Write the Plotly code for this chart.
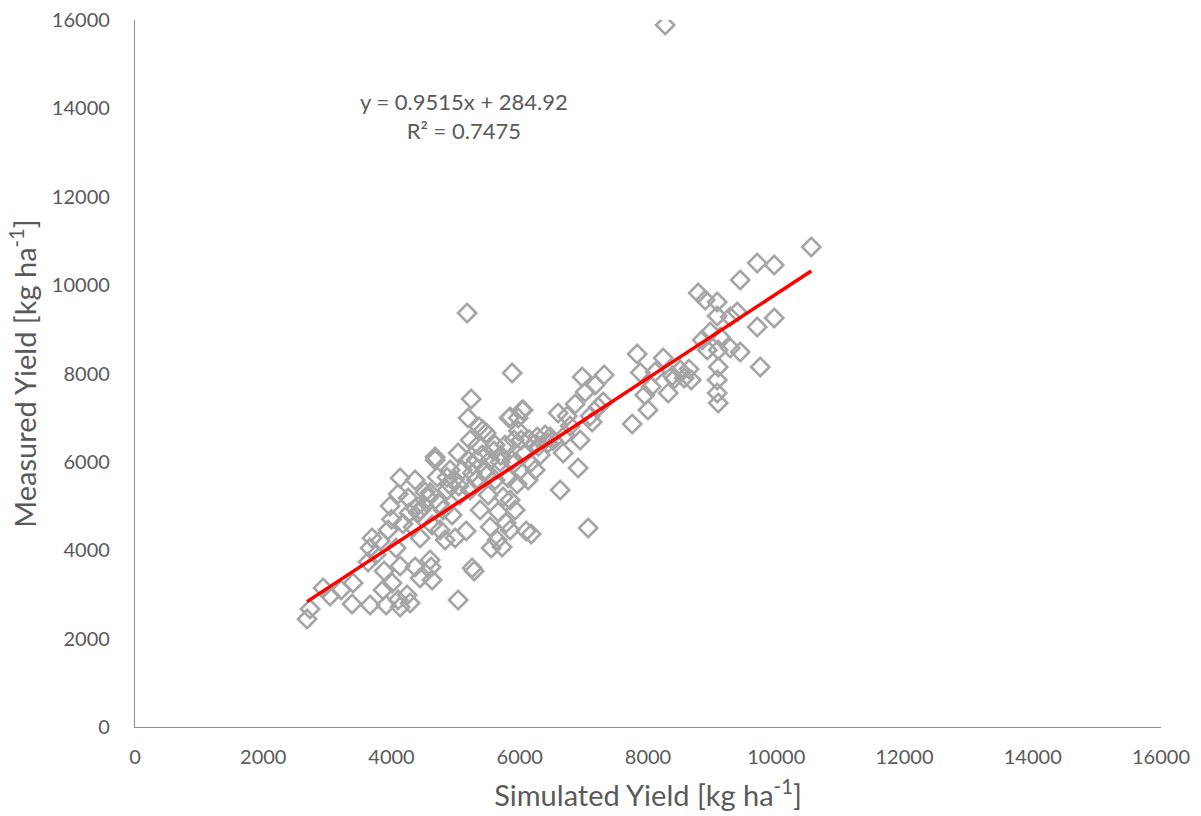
import plotly.graph_objects as go

# Simulated vs. measured yield (kg/ha)
simulated = [
    2683, 2730, 2933, 3042, 3214, 3385, 3401, 3635, 3666, 3666, 3697, 3822, 3869, 3884,
    3916, 3947, 3978, 4009, 4072, 4103, 4103, 4134, 4134, 4134, 4243, 4290, 4368, 4259,
    4274, 4337, 4368, 4446, 4446, 4524, 4446, 4602, 4633, 4618, 4571, 4680, 4633, 4711,
    4758, 4805, 4836, 4867, 4914, 4945, 4992, 5039, 5039, 5070, 5101, 5164, 5195, 5195,
    5226, 5226, 5242, 5257, 5273, 5288, 5320, 5351, 5382, 5413, 5429, 5460, 5476, 5507,
    5538, 5538, 5554, 5616, 5616, 5647, 5663, 5694, 5725, 5741, 5772, 5788, 5819, 5834,
    5850, 5850, 5881, 5881, 5912, 5928, 5959, 5975, 6006, 6022, 6037, 6084, 6100, 6131,
    6162, 6178, 6209, 6240, 6271, 6318, 6396, 6443, 6474, 6599, 6630, 6677, 6708, 6739,
    6786, 6864, 6911, 6942, 6973, 7020, 7067, 7098, 7129, 7176, 7223, 7301, 7316,
    7753, 7831, 7950, 8000, 8112, 8237, 8315, 8502, 8564, 8674, 8783, 8892, 9079, 9391,
    9079, 9282, 9968, 9703, 8970, 9126, 8845, 8923, 9095, 9282, 9438, 9095, 9750, 9079,
    9079, 9095, 9703, 9968, 9438, 10546, 8268, 5179,
    5366, 5850, 6053, 4680, 4000, 4368, 4602, 4867, 3760, 4180, 4510, 4900, 5600, 5980,
    6290, 6520, 8410, 8640, 8050, 8380, 7880,
    4420, 4750, 5050, 5320, 5480, 5700, 5900, 6150, 4980, 5260,
]
measured = [
    2444, 2670, 3146, 2965, 3100, 2783, 3259, 3734, 4051, 2761, 4277, 4209, 3100, 3530,
    2761, 4458, 5001, 3259, 4051, 5273, 2874, 5635, 3643, 2716, 2987, 2806, 3621, 5182,
    4843, 4526, 5590, 4911, 4277, 5318, 3372, 3779, 3327, 3621, 5182, 6042, 4571, 5658,
    4458, 4911, 4232, 5363, 5816, 4798, 4277, 2874, 6201, 5250, 5816, 4435, 6042, 6993,
    6495, 5363, 7423, 3598, 5929, 3530, 5590, 6382, 4911, 6155, 6721, 5816, 6653, 5250,
    6042, 4526, 4051, 6382, 5590, 4232, 4866, 5997, 4073, 5205, 6382, 4617, 5635, 6993,
    5137, 4458, 8011, 6042, 6495, 4911, 5499, 6993, 5816, 6495, 7174, 6201, 4435, 5590,
    5974, 4368, 6382, 5816, 6563, 6155, 6608, 6427, 6563, 7106, 5363, 6201, 6608, 7038,
    6812, 7309, 5861, 6495, 7921, 7581, 4503, 7038, 6902, 7739, 7242, 7355, 7966,
    6857, 8441, 7513, 7174, 8034, 8350, 7558, 8079, 7898, 7853, 9821, 9663, 9618, 9391,
    9301, 9278, 9256, 9052, 8939, 8826, 8758, 8532, 8532, 8577, 8486, 8147, 8147, 7853,
    7558, 7332, 10500, 10455, 10116, 10862, 15887, 9369,
    6789, 7015, 7174, 6110, 4700, 4950, 5300, 5650, 3900, 4600, 5000, 5500, 6250, 6700,
    6350, 6480, 7880, 8100, 7700, 7950, 8020,
    4850, 5050, 5450, 6050, 5700, 6150, 5950, 6500, 5600, 5750,
]

# Linear trend line reported on the chart
slope = 0.9515
intercept = 284.92
r_squared = 0.7475
trend_x = [min(simulated), max(simulated)]
trend_y = [slope * v + intercept for v in trend_x]

axis_color = "#8c8c8c"
text_color = "#595959"
font_family = "Lato, 'Open Sans', sans-serif"

fig = go.Figure()
fig.add_trace(go.Scatter(
    x=simulated, y=measured, mode="markers",
    marker=dict(symbol="diamond-open", size=14, color="#a5a5a5",
                line=dict(width=2.6, color="#a5a5a5")),
    showlegend=False, hoverinfo="x+y",
))
fig.add_trace(go.Scatter(
    x=trend_x, y=trend_y, mode="lines",
    line=dict(color="#ff0000", width=3.5),
    showlegend=False, hoverinfo="skip",
))

fig.add_annotation(
    x=5130, y=13830, xref="x", yref="y", showarrow=False,
    text=f"y = {slope}x + {intercept}<br>R² = {r_squared}",
    font=dict(size=22, color=text_color, family=font_family),
    align="center",
)

axis_common = dict(
    range=[0, 16000], dtick=2000, tick0=0, tickformat="d",
    showgrid=False, zeroline=False,
    showline=True, linecolor=axis_color, linewidth=1.3,
    ticks="outside", tickcolor="rgba(0,0,0,0)",
    tickfont=dict(size=20, color=text_color, family=font_family),
    automargin=False,
)

title_font = dict(size=29, color=text_color, family=font_family)

fig.update_layout(
    width=1201, height=816,
    margin=dict(l=135, r=40, t=20, b=89),
    paper_bgcolor="white", plot_bgcolor="white",
    font=dict(family=font_family, color=text_color),
    xaxis=dict(**axis_common, ticklen=12,
               title=dict(text="Simulated Yield [kg ha<sup>-1</sup>]",
                          font=title_font, standoff=18)),
    yaxis=dict(**axis_common, ticklen=20,
               title=dict(text="Measured Yield [kg ha<sup>-1</sup>]",
                          font=title_font, standoff=6)),
)

fig.write_html("out.html")
